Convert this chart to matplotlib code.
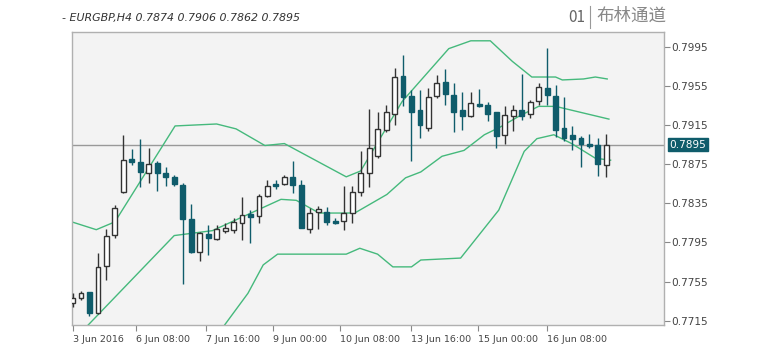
import matplotlib
matplotlib.use("Agg")
import matplotlib.pyplot as plt
from matplotlib.patches import Rectangle

# ---- data (EURGBP H4) ----
opens = [0.7733, 0.7738, 0.7744, 0.7723, 0.7771, 0.7803, 0.7846, 0.7880, 0.7877, 0.7866,
         0.7876, 0.7866, 0.7862, 0.7854, 0.7819, 0.7785, 0.7804, 0.7798, 0.7807, 0.7808,
         0.7815, 0.7824, 0.7822, 0.7842, 0.7855, 0.7855, 0.7862, 0.7854, 0.7809, 0.7826,
         0.7826, 0.7817, 0.7817, 0.7825, 0.7846, 0.7866, 0.7883, 0.7910, 0.7926, 0.7965,
         0.7945, 0.7930, 0.7912, 0.7945, 0.7959, 0.7946, 0.7930, 0.7924, 0.7936, 0.7935,
         0.7928, 0.7905, 0.7924, 0.7930, 0.7926, 0.7939, 0.7953, 0.7945, 0.7912, 0.7905,
         0.7902, 0.7896, 0.7895, 0.7874]
highs = [0.7743, 0.7745, 0.7744, 0.7784, 0.7809, 0.7833, 0.7905, 0.7890, 0.7901, 0.7891,
         0.7878, 0.7872, 0.7864, 0.7856, 0.7834, 0.7806, 0.7813, 0.7813, 0.7815, 0.7820,
         0.7841, 0.7828, 0.7844, 0.7859, 0.7859, 0.7864, 0.7878, 0.7859, 0.7830, 0.7832,
         0.7831, 0.7820, 0.7853, 0.7853, 0.7888, 0.7931, 0.7928, 0.7935, 0.7973, 0.7986,
         0.7951, 0.7951, 0.7953, 0.7966, 0.7972, 0.7958, 0.7949, 0.7949, 0.7952, 0.7938,
         0.7928, 0.7934, 0.7935, 0.7967, 0.7941, 0.7958, 0.7994, 0.7956, 0.7944, 0.7914,
         0.7904, 0.7906, 0.7902, 0.7906]
lows = [0.7729, 0.7736, 0.7720, 0.7722, 0.7757, 0.7799, 0.7845, 0.7874, 0.7852, 0.7856,
        0.7848, 0.7853, 0.7853, 0.7753, 0.7784, 0.7776, 0.7782, 0.7797, 0.7805, 0.7805,
        0.7797, 0.7794, 0.7815, 0.7841, 0.7850, 0.7854, 0.7845, 0.7810, 0.7805, 0.7809,
        0.7813, 0.7814, 0.7808, 0.7815, 0.7842, 0.7852, 0.7881, 0.7908, 0.7915, 0.7934,
        0.7878, 0.7902, 0.7909, 0.7943, 0.7935, 0.7908, 0.7910, 0.7923, 0.7933, 0.7919,
        0.7891, 0.7896, 0.7909, 0.7920, 0.7922, 0.7935, 0.7935, 0.7903, 0.7899, 0.7889,
        0.7872, 0.7891, 0.7863, 0.7862]
closes = [0.7738, 0.7743, 0.7723, 0.7770, 0.7802, 0.7830, 0.7879, 0.7877, 0.7867, 0.7875,
          0.7866, 0.7862, 0.7855, 0.7819, 0.7785, 0.7805, 0.7799, 0.7809, 0.7810, 0.7816,
          0.7823, 0.7821, 0.7842, 0.7853, 0.7853, 0.7862, 0.7854, 0.7810, 0.7825, 0.7829,
          0.7816, 0.7815, 0.7825, 0.7846, 0.7866, 0.7891, 0.7911, 0.7928, 0.7964, 0.7944,
          0.7928, 0.7915, 0.7944, 0.7958, 0.7947, 0.7928, 0.7924, 0.7937, 0.7934, 0.7926,
          0.7904, 0.7925, 0.7930, 0.7924, 0.7938, 0.7954, 0.7946, 0.7910, 0.7902, 0.7901,
          0.7896, 0.7894, 0.7875, 0.7895]

# Bollinger band vertices (bar index, price)
upper_x = [-0.1, 2.8, 5.0, 12.1, 17.0, 19.3, 22.7, 25.0, 32.3, 34.0, 38.9, 44.4, 47.0,
           49.3, 51.9, 54.2, 57.0, 57.8, 60.3, 61.7, 63.1]
upper_y = [0.7816, 0.7808, 0.7816, 0.7914, 0.7916, 0.7911, 0.7894, 0.7896, 0.7862, 0.7868,
           0.7939, 0.7993, 0.8001, 0.8001, 0.7980, 0.7964, 0.7964, 0.7961, 0.7962, 0.7964,
           0.7962]
middle_x = [0.0, 12.0, 16.5, 24.6, 26.4, 29.1, 33.3, 37.1, 39.3, 41.1, 43.6, 46.2, 48.6,
            50.5, 52.7, 55.0, 57.0, 63.3]
middle_y = [0.7694, 0.7802, 0.7807, 0.7839, 0.7838, 0.7825, 0.7825, 0.7844, 0.7861, 0.7867,
            0.7883, 0.7889, 0.7905, 0.7913, 0.7924, 0.7934, 0.7934, 0.7921]
lower_x = [15.0, 20.7, 22.5, 24.2, 32.3, 33.9, 36.0, 37.8, 40.0, 41.1, 45.8, 50.3, 53.3,
           54.8, 56.8, 58.9, 61.7, 63.5]
lower_y = [0.7676, 0.7743, 0.7772, 0.7783, 0.7783, 0.7789, 0.7783, 0.7770, 0.7770, 0.7777,
           0.7779, 0.7828, 0.7888, 0.7901, 0.7905, 0.7896, 0.7881, 0.7879]

ytick_vals = [0.7715, 0.7755, 0.7795, 0.7835, 0.7875, 0.7915, 0.7955, 0.7995]
xtick_pos = [0, 7.5, 15.75, 23.6, 31.6, 39.9, 47.9, 56.0]
xtick_labels = ["3 Jun 2016", "6 Jun 08:00", "7 Jun 16:00", "9 Jun 00:00",
                "10 Jun 08:00", "13 Jun 16:00", "15 Jun 00:00", "16 Jun 08:00"]
last_price = 0.7895
title_text = "- EURGBP,H4 0.7874 0.7906 0.7862 0.7895"

# ---- style ----
TEAL = "#0f5c6b"
DARK = "#333333"
GREEN = "#45b97c"
BG = "#f3f3f3"

fig = plt.figure(figsize=(7.66, 3.60), dpi=100)
fig.patch.set_facecolor("white")
ax = fig.add_axes([71.7 / 766, 1 - 325 / 360, (664 - 71.7) / 766, (325 - 31.7) / 360])
ax.set_facecolor(BG)

body_w = 0.58
for i, (o, h, l, c) in enumerate(zip(opens, highs, lows, closes)):
    up = c >= o
    col = DARK if up else TEAL
    ax.plot([i, i], [l, h], color=col, lw=1.0, zorder=3, solid_capstyle="butt")
    bottom = min(o, c)
    height = max(abs(c - o), 0.00003)
    rect = Rectangle((i - body_w / 2, bottom), body_w, height,
                     facecolor="white" if up else TEAL,
                     edgecolor=col, lw=1.0, zorder=4)
    ax.add_patch(rect)

for xs, ys in ((upper_x, upper_y), (middle_x, middle_y), (lower_x, lower_y)):
    ax.plot(xs, ys, color=GREEN, lw=1.0, zorder=2)

ax.axhline(last_price, color="#999999", lw=1.0, zorder=1)

ax.set_xlim(-0.1, 69.8)
ax.set_ylim(0.77106, 0.80103)

ax.yaxis.tick_right()
ax.set_yticks(ytick_vals)
ax.set_yticklabels([f"{v:.4f}" for v in ytick_vals])
ax.set_xticks(xtick_pos)
ax.set_xticklabels(xtick_labels, ha="left")
ax.tick_params(axis="y", length=4, width=0.8, color="#888888", labelsize=7.6,
               labelcolor="#444444", pad=1)
ax.tick_params(axis="x", length=4, width=0.8, color="#888888", labelsize=6.8,
               labelcolor="#444444", pad=3)
for lab in ax.get_xticklabels():
    lab.set_horizontalalignment("left")
for s in ax.spines.values():
    s.set_color("#b0b0b0")
    s.set_linewidth(1.0)

# last price label box
ax.annotate(f"{last_price:.4f}", xy=(1.0, last_price), xycoords=("axes fraction", "data"),
            xytext=(4, 0), textcoords="offset points", ha="left", va="center",
            fontsize=7.6, color="white",
            bbox=dict(boxstyle="square,pad=0.15", facecolor=TEAL, edgecolor=TEAL),
            zorder=10, annotation_clip=False)

fig.text(62 / 766, 1 - 18.5 / 360, title_text, fontsize=7.9, style="italic",
         color="#333333", ha="left", va="center")
fig.text(585 / 766, 1 - 17 / 360, "01", fontsize=11, color="#666666",
         ha="right", va="center",
         family=["Noto Sans CJK SC", "DejaVu Sans"])
fig.add_artist(plt.Line2D([590 / 766, 590 / 766], [1 - 6 / 360, 1 - 28 / 360],
                          color="#999999", lw=0.8))
fig.text(596 / 766, 1 - 16 / 360, "布林通道", fontsize=12.6, color="#888888",
         ha="left", va="center", family=["Noto Sans CJK SC", "DejaVu Sans"])

fig.savefig("out.png", dpi=100)
